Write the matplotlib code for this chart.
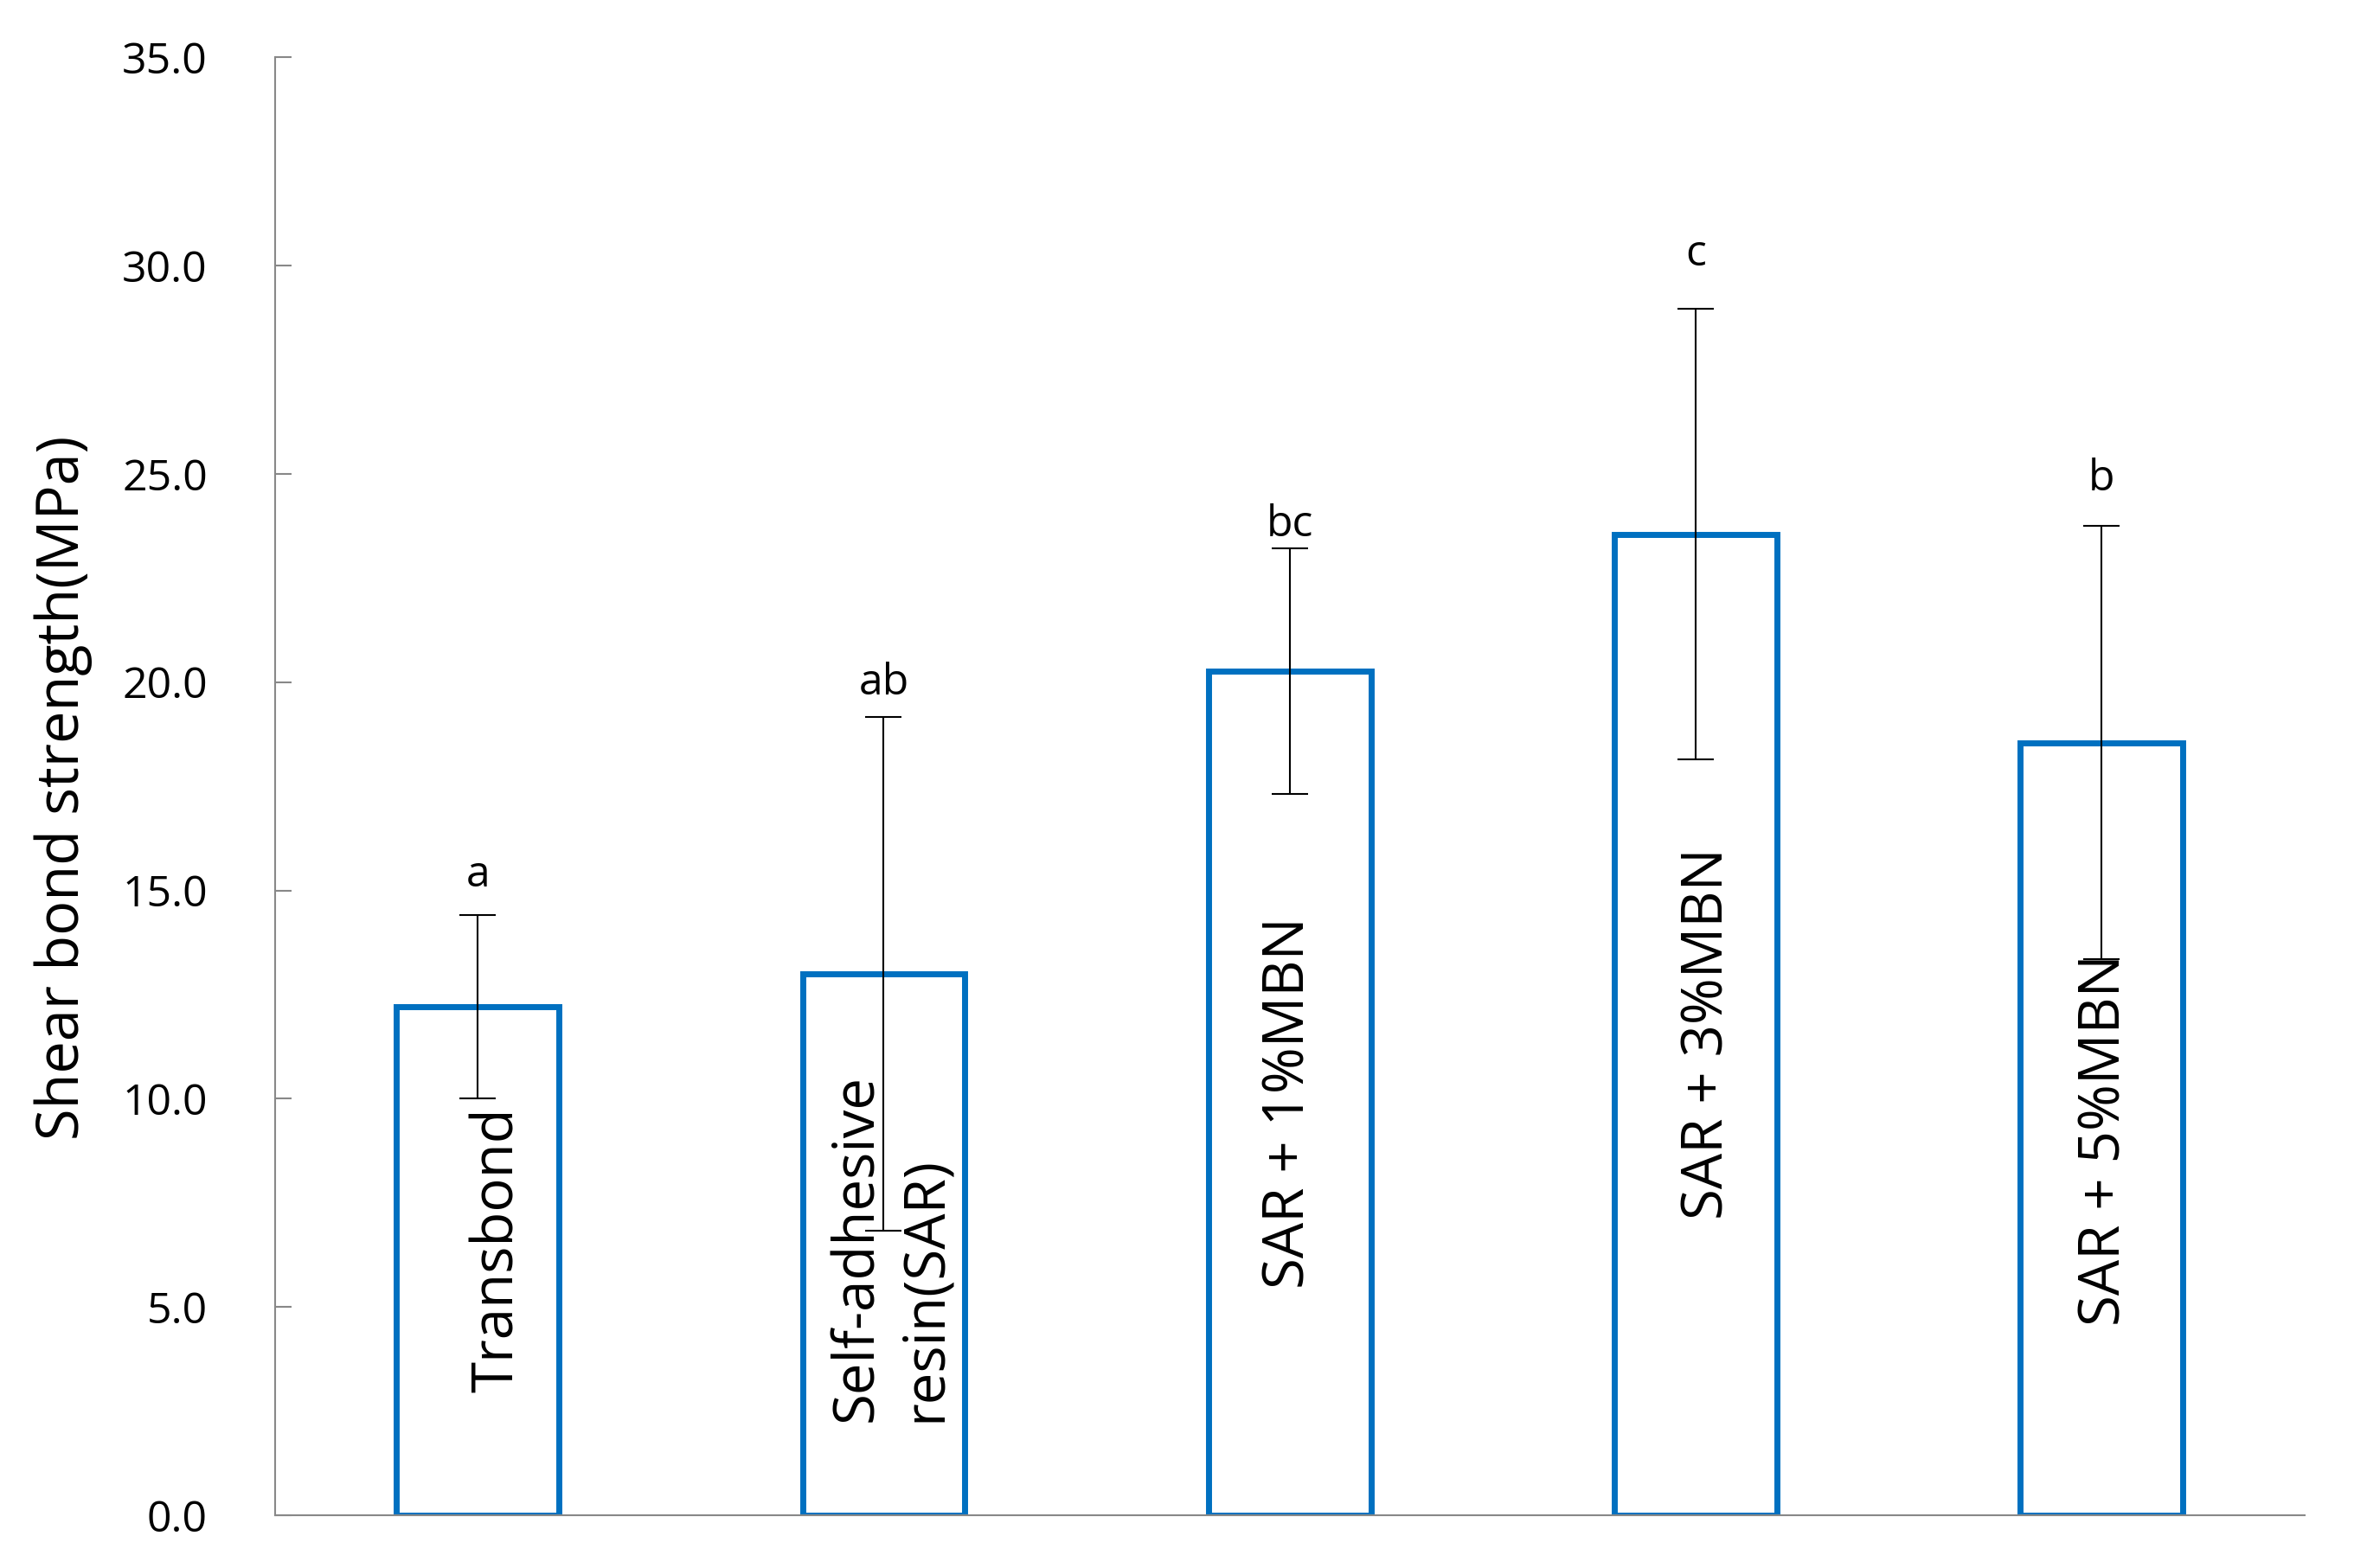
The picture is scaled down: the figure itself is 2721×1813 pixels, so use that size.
import matplotlib
matplotlib.use("Agg")
import matplotlib.pyplot as plt
import numpy as np

plt.rcParams['font.family'] = ['Open Sans', 'DejaVu Sans']

# data
groups = ["Transbond", "Self-adhesive\nresin(SAR)", "SAR + 1%MBN", "SAR + 3%MBN", "SAR + 5%MBN"]
means = [12.2, 13.0, 20.27, 23.55, 18.55]
sds = [2.2, 6.16, 2.95, 5.4, 5.2]
letters = ["a", "ab", "bc", "c", "b"]

# label anchors (data units)
letter_y = [15.1, 19.7, 23.5, 30.0, 24.6]
name_y = [2.95, 2.25, 5.45, 7.1, 4.55]
name_dx = [0.05, 0.02, 0.0, 0.03, 0.01]

blue = "#0070C0"
grey = "#888888"

fig = plt.figure(figsize=(27.21, 18.13), dpi=100)
ax = fig.add_axes([0.1167, 0.0335, 0.8623, 0.9301])

x = np.arange(len(groups))
ax.bar(x, means, width=0.40, facecolor="white", edgecolor=blue, linewidth=5, zorder=2)
ax.errorbar(x, means, yerr=sds, fmt="none", ecolor="black", elinewidth=1.5,
            capsize=15, capthick=1.5, zorder=3)

for i in range(len(groups)):
    ax.text(x[i], letter_y[i], letters[i], ha="center", va="baseline", fontsize=36, zorder=5)
    ax.text(x[i] + name_dx[i], name_y[i], groups[i], rotation=90, ha="center", va="bottom",
            fontsize=47, multialignment="left", linespacing=1.25, zorder=4)

ax.set_xlim(-0.5, len(groups) - 0.5)
ax.set_ylim(0, 35)
ax.set_yticks(np.arange(0, 35.1, 5))
ax.set_yticklabels(["%.1f" % v for v in np.arange(0, 35.1, 5)])
ax.set_xticks([])
ax.tick_params(axis="y", direction="in", length=14, width=1.5, color=grey, pad=56, labelsize=36)

for s in ["top", "right"]:
    ax.spines[s].set_visible(False)
for s in ["left", "bottom"]:
    ax.spines[s].set_color(grey)
    ax.spines[s].set_linewidth(1.5)

fig.text(73 / 2721, 0.4976, "Shear bond strength(MPa)", rotation=90, ha="center", va="center", fontsize=48)

plt.savefig("out.png", dpi=100)
